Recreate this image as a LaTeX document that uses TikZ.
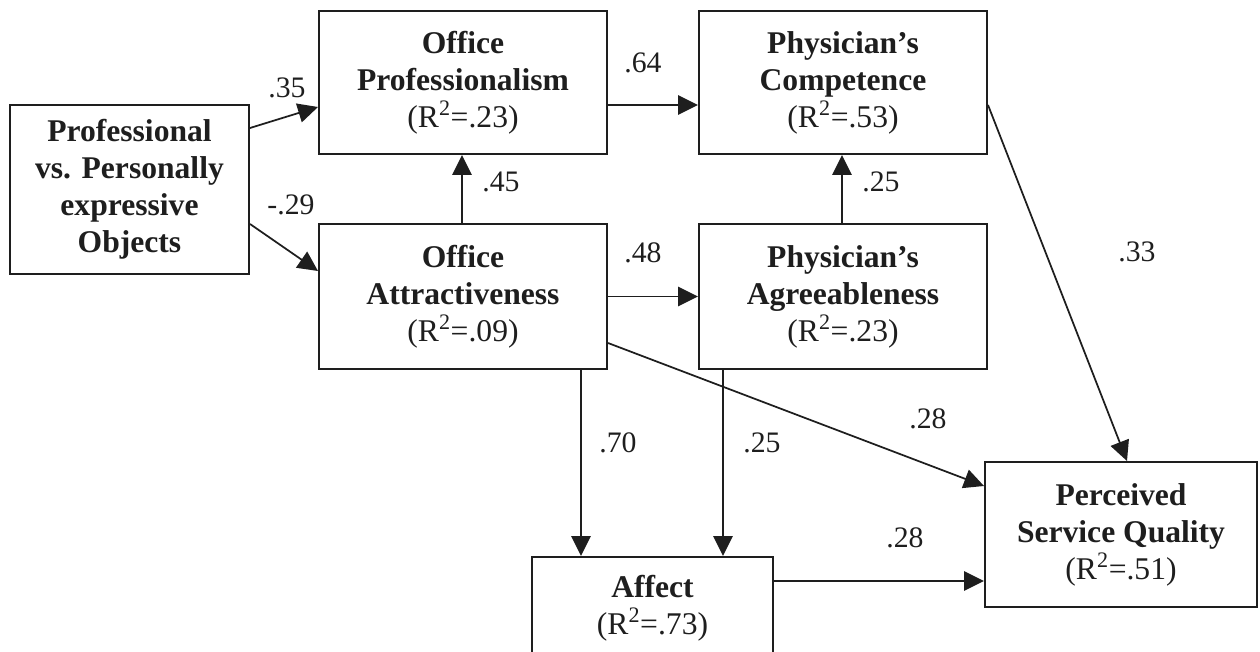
\documentclass[tikz,border=0pt]{standalone}
\usepackage{fontspec}
\setmainfont{Liberation Serif}
\usetikzlibrary{arrows.meta,calc}
\definecolor{ink}{HTML}{1E1E1E}
\begin{document}
\begin{tikzpicture}[x=0.75pt,y=-0.75pt,
  box/.style={draw=ink,line width=1.5pt,rectangle,align=center,inner sep=0pt,
    text=ink,font=\fontsize{23.7}{27.75}\selectfont},
  lbl/.style={inner sep=0pt,text=ink,font=\fontsize{22.3}{26}\selectfont},
  arr/.style={draw=ink,line width=1.3pt,-{Triangle[length=15pt,width=14.5pt]}}]
\useasboundingbox (0,0) rectangle (1260,652);
\fill[white] (0,0) rectangle (1260,652);
\clip (0,0) rectangle (1260,652);

% constructs
\node[box,minimum width=179.25pt,minimum height=126.75pt] (prof) at (129.5,189.5)
  {\textbf{Professional}\\\textbf{vs. Personally}\\\textbf{expressive}\\\textbf{Objects}};
\node[box,minimum width=216pt,minimum height=107.25pt] (offprof) at (463,82.5)
  {\textbf{Office}\\\textbf{Professionalism}\\(R\textsuperscript{2}=.23)};
\node[box,minimum width=216pt,minimum height=107.25pt] (physcomp) at (843,82.5)
  {\textbf{Physician’s}\\\textbf{Competence}\\(R\textsuperscript{2}=.53)};
\node[box,minimum width=216pt,minimum height=108.75pt] (offattr) at (463,296.5)
  {\textbf{Office}\\\textbf{Attractiveness}\\(R\textsuperscript{2}=.09)};
\node[box,minimum width=216pt,minimum height=108.75pt] (physagree) at (843,296.5)
  {\textbf{Physician’s}\\\textbf{Agreeableness}\\(R\textsuperscript{2}=.23)};
\node[box,minimum width=180.75pt,minimum height=76.5pt] (affect) at (652.5,608)
  {\textbf{Affect}\\(R\textsuperscript{2}=.73)};
\node[box,minimum width=204pt,minimum height=108.75pt] (psq) at (1121,534.5)
  {\textbf{Perceived}\\\textbf{Service Quality}\\(R\textsuperscript{2}=.51)};

% paths
\draw[arr] ($(prof.east)+(0,-61.5)$) -- ($(offprof.west)+(0,24.5)$);
\draw[arr] ($(prof.east)+(0,34.5)$) -- ($(offattr.west)+(0,-25.5)$);
\draw[arr] ($(offprof.east)+(0,22.5)$) -- ($(physcomp.west)+(0,22.5)$);
\draw[arr] ($(offattr.north)+(-1,0)$) -- ($(offprof.south)+(-1,0)$);
\draw[arr] ($(physagree.north)+(-1,0)$) -- ($(physcomp.south)+(-1,0)$);
\draw[arr] (offattr.east) -- (physagree.west);
\draw[arr] ($(offattr.east)+(0,46.5)$) -- ($(psq.west)+(0,-48.5)$);
\draw[arr] ($(physcomp.east)+(0,22.5)$) -- ($(psq.north)+(6,0)$);
\draw[arr] ($(offattr.south)+(118,0)$) -- ($(affect.north)+(-71.5,0)$);
\draw[arr] ($(physagree.south)+(-120,0)$) -- ($(affect.north)+(70.5,0)$);
\draw[arr] ($(affect.east)+(0,-27)$) -- ($(psq.west)+(0,46.5)$);

% path coefficients
\node[lbl] (c35) at (287,88) {.35};
\node[lbl] (c29) at (291,205) {-.29};
\node[lbl] (c64) at (643,63) {.64};
\node[lbl] (c45) at (501,182) {.45};
\node[lbl] (c25a) at (881,182) {.25};
\node[lbl] (c48) at (643,253) {.48};
\node[lbl] (c33) at (1137,252) {.33};
\node[lbl] (c28a) at (928,419) {.28};
\node[lbl] (c70) at (618,443) {.70};
\node[lbl] (c25b) at (762,443) {.25};
\node[lbl] (c28b) at (905,538) {.28};
\end{tikzpicture}
\end{document}
